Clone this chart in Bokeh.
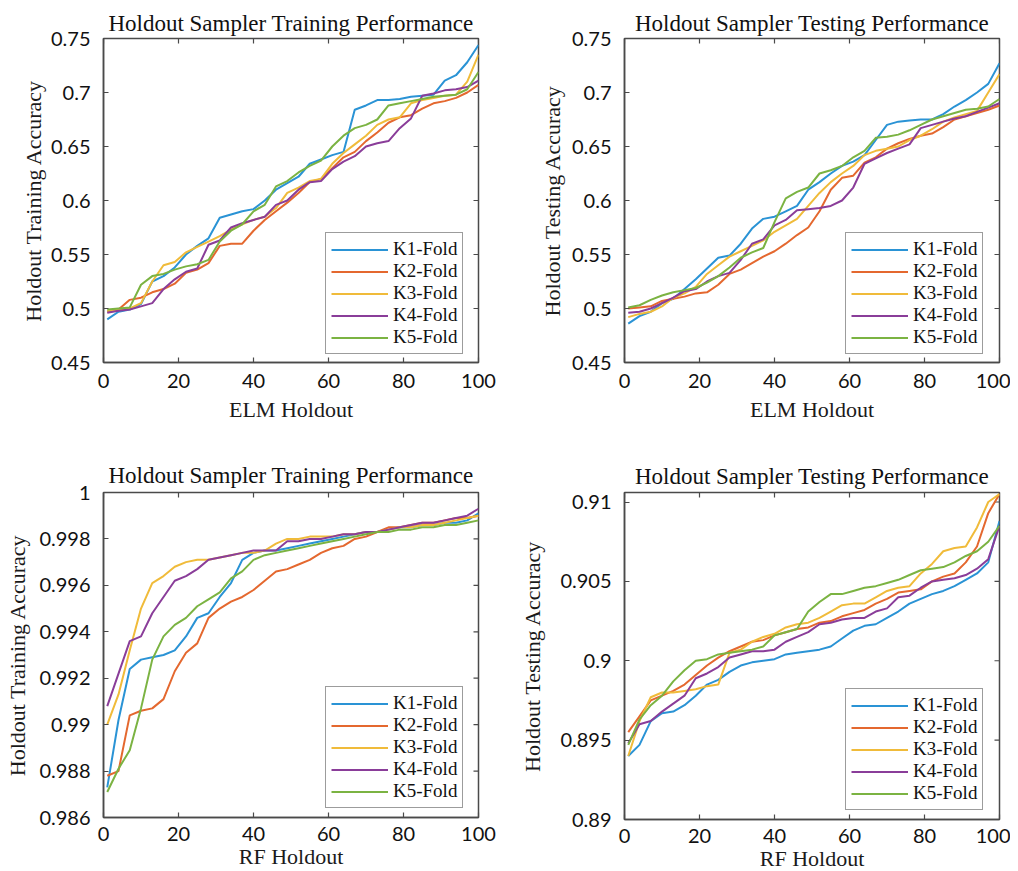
import math
from bokeh.plotting import figure
from bokeh.layouts import column, row
from bokeh.models import FixedTicker, Legend, LegendItem, Range1d
from bokeh.embed import file_html
from bokeh.resources import INLINE

# ---------------- data ----------------
holdout_x = [1, 4, 7, 10, 13, 16, 19, 22, 25, 28, 31, 34, 37, 40, 43, 46, 49,
             52, 55, 58, 61, 64, 67, 70, 73, 76, 79, 82, 85, 88, 91, 94, 97, 100]

fold_labels = ["K1-Fold", "K2-Fold", "K3-Fold", "K4-Fold", "K5-Fold"]

elm_train_k1 = [.490, .497, .499, .504, .525, .530, .538, .550, .558, .565, .584, .587, .590, .592, .600, .610, .616,
                .622, .634, .638, .642, .645, .684, .688, .693, .693, .694, .696, .697, .698, .711, .716, .728, .744]
elm_train_k2 = [.497, .499, .508, .510, .515, .518, .523, .533, .536, .542, .558, .560, .560, .572, .582, .590, .598,
                .607, .617, .620, .630, .640, .645, .655, .663, .672, .677, .679, .685, .690, .692, .695, .700, .707]
elm_train_k3 = [.498, .499, .500, .505, .525, .540, .543, .552, .557, .562, .567, .573, .578, .582, .585, .593, .607,
                .612, .618, .620, .634, .644, .652, .660, .670, .675, .677, .690, .693, .695, .697, .698, .710, .735]
elm_train_k4 = [.496, .498, .499, .502, .505, .518, .527, .534, .537, .559, .563, .575, .579, .582, .585, .596, .600,
                .610, .617, .618, .629, .636, .641, .650, .653, .655, .667, .676, .697, .699, .702, .703, .705, .711]
elm_train_k5 = [.499, .500, .501, .522, .530, .532, .536, .539, .541, .545, .562, .572, .578, .590, .596, .613, .618,
                .626, .632, .637, .650, .660, .667, .670, .675, .688, .690, .692, .694, .696, .697, .698, .703, .719]

elm_test_k1 = [.486, .493, .497, .505, .509, .518, .527, .537, .547, .549, .560, .574, .583, .585, .590, .595, .610,
               .617, .625, .632, .636, .642, .656, .670, .673, .674, .675, .675, .680, .687, .693, .700, .708, .727]
elm_test_k2 = [.500, .501, .502, .507, .509, .511, .514, .515, .522, .532, .536, .542, .548, .553, .560, .568, .575,
               .590, .610, .621, .623, .635, .640, .648, .653, .657, .660, .662, .668, .675, .678, .681, .684, .688]
elm_test_k3 = [.492, .495, .497, .502, .510, .514, .520, .532, .540, .548, .553, .558, .563, .571, .577, .583, .595,
               .607, .617, .625, .632, .642, .646, .648, .650, .656, .660, .666, .673, .677, .680, .683, .700, .717]
elm_test_k4 = [.496, .497, .500, .505, .510, .516, .518, .525, .530, .533, .545, .560, .564, .577, .582, .591, .592,
               .593, .595, .600, .612, .634, .639, .644, .648, .652, .667, .670, .673, .676, .678, .682, .686, .690]
elm_test_k5 = [.501, .503, .508, .512, .515, .517, .519, .524, .530, .538, .547, .552, .556, .580, .602, .608, .612,
               .625, .628, .632, .640, .646, .658, .659, .661, .665, .670, .675, .678, .681, .684, .685, .687, .694]

rf_train_k1 = [.9873, .9902, .9924, .9928, .9929, .9930, .9932, .9938, .9946, .9948, .9955, .9961, .9971, .9974,
               .9975, .9975, .9976, .9977, .9978, .9979, .9980, .9981, .9982, .9983, .9983, .9984, .9985, .9985,
               .9986, .9986, .9987, .9987, .9988, .9991]
rf_train_k2 = [.9878, .9880, .9904, .9906, .9907, .9911, .9923, .9931, .9935, .9946, .9950, .9953, .9955, .9958,
               .9962, .9966, .9967, .9969, .9971, .9974, .9976, .9977, .9980, .9981, .9983, .9985, .9985, .9986,
               .9987, .9987, .9988, .9989, .9989, .9990]
rf_train_k3 = [.9900, .9913, .9932, .9950, .9961, .9964, .9968, .9970, .9971, .9971, .9972, .9973, .9974, .9974,
               .9975, .9978, .9980, .9980, .9981, .9981, .9981, .9982, .9982, .9983, .9983, .9984, .9985, .9985,
               .9986, .9986, .9987, .9988, .9989, .9990]
rf_train_k4 = [.9908, .9922, .9936, .9938, .9948, .9955, .9962, .9964, .9967, .9971, .9972, .9973, .9974, .9975,
               .9975, .9975, .9979, .9979, .9980, .9980, .9981, .9982, .9982, .9983, .9983, .9984, .9985, .9986,
               .9987, .9987, .9988, .9989, .9990, .9993]
rf_train_k5 = [.9871, .9881, .9889, .9907, .9928, .9938, .9943, .9946, .9951, .9954, .9957, .9963, .9966, .9971,
               .9973, .9974, .9975, .9976, .9977, .9978, .9979, .9980, .9981, .9982, .9983, .9983, .9984, .9984,
               .9985, .9985, .9986, .9986, .9987, .9988]

rf_test_k1 = [.8940, .8947, .8962, .8967, .8968, .8972, .8978, .8985, .8988, .8993, .8997, .8999, .9000, .9001,
              .9004, .9005, .9006, .9007, .9009, .9014, .9019, .9022, .9023, .9027, .9031, .9036, .9039, .9042,
              .9044, .9047, .9051, .9055, .9062, .9088]
rf_test_k2 = [.8955, .8965, .8975, .8978, .8981, .8985, .8991, .8997, .9002, .9006, .9009, .9012, .9013, .9016,
              .9018, .9020, .9021, .9024, .9025, .9028, .9030, .9032, .9036, .9039, .9043, .9044, .9045, .9050,
              .9053, .9055, .9062, .9072, .9093, .9105]
rf_test_k3 = [.8940, .8962, .8977, .8980, .8980, .8981, .8982, .8984, .8985, .9005, .9007, .9012, .9015, .9017,
              .9021, .9023, .9024, .9027, .9031, .9035, .9036, .9036, .9040, .9044, .9046, .9047, .9055, .9061,
              .9069, .9071, .9072, .9084, .9100, .9105]
rf_test_k4 = [.8948, .8960, .8962, .8968, .8973, .8978, .8989, .8992, .8996, .9002, .9004, .9006, .9006, .9007,
              .9012, .9015, .9018, .9023, .9024, .9026, .9027, .9027, .9031, .9033, .9040, .9041, .9046, .9050,
              .9051, .9052, .9054, .9058, .9064, .9085]
rf_test_k5 = [.8947, .8963, .8972, .8978, .8987, .8994, .9000, .9001, .9004, .9005, .9006, .9007, .9009, .9016,
              .9018, .9020, .9031, .9037, .9042, .9042, .9044, .9046, .9047, .9049, .9051, .9054, .9057, .9058,
              .9059, .9062, .9066, .9069, .9075, .9085]

x_ticks = [0, 20, 40, 60, 80, 100]
elm_y_ticks = [0.45, 0.5, 0.55, 0.6, 0.65, 0.7, 0.75]
elm_y_labels = ["0.45", "0.5", "0.55", "0.6", "0.65", "0.7", "0.75"]
rf_train_y_ticks = [0.986, 0.988, 0.99, 0.992, 0.994, 0.996, 0.998, 1.0]
rf_train_y_labels = ["0.986", "0.988", "0.99", "0.992", "0.994", "0.996", "0.998", "1"]
rf_test_y_ticks = [0.89, 0.895, 0.9, 0.905, 0.91]
rf_test_y_labels = ["0.89", "0.895", "0.9", "0.905", "0.91"]

# ---------------- styling ----------------
COLORS = ["#2a93d5", "#e4682f", "#f0bb3a", "#8a3d99", "#7bb342"]
EDGE = "#4a4a4a"
SERIF = "Liberation Serif"
SANS = "Lato"
X_MIN, X_MAX = 0, 100


def style_axis(ax, ticker, overrides=None, standoff=10):
    ax.ticker = ticker
    ax.axis_line_color = EDGE
    ax.axis_line_width = 1.5
    ax.major_tick_line_color = EDGE
    ax.major_tick_line_width = 1.2
    ax.major_tick_in = 5
    ax.major_tick_out = 0
    ax.minor_tick_line_color = None
    if overrides:
        ax.major_label_overrides = overrides
    ax.major_label_text_font = SANS
    ax.major_label_text_font_size = "20px"
    ax.major_label_text_color = "#111111"
    ax.major_label_standoff = standoff
    ax.axis_label_text_font = SERIF
    ax.axis_label_text_font_size = "22px"
    ax.axis_label_text_font_style = "normal"
    ax.axis_label_text_color = "#1a1a1a"


def panel(title, xlabel, ylabel, ylim, yticks, ylabels, series, fh, bl, br, bt, bb,
          ylab_standoff, title_standoff, xtick_standoff, xlab_standoff, legend_xy):
    p = figure(frame_width=375, frame_height=fh,
               x_range=Range1d(X_MIN, X_MAX), y_range=Range1d(*ylim),
               output_backend="svg", toolbar_location=None,
               min_border_left=bl, min_border_right=br,
               min_border_top=bt, min_border_bottom=bb)
    p.title.text = title
    p.title.text_font = SERIF
    p.title.text_font_size = "23px"
    p.title.text_font_style = "normal"
    p.title.align = "center"
    p.title.text_color = "#111111"
    p.title.standoff = title_standoff
    p.xgrid.visible = False
    p.ygrid.visible = False
    p.outline_line_color = EDGE
    p.outline_line_width = 1.5
    p.background_fill_color = "white"
    p.border_fill_color = "white"

    ov = {t: lab for t, lab in zip(yticks, ylabels)}
    style_axis(p.xaxis[0], FixedTicker(ticks=x_ticks), standoff=xtick_standoff)
    p.xaxis[0].axis_label = xlabel
    p.xaxis[0].axis_label_standoff = xlab_standoff
    style_axis(p.yaxis[0], FixedTicker(ticks=yticks), overrides=ov, standoff=13)
    p.yaxis[0].axis_label = ylabel
    p.yaxis[0].axis_label_standoff = ylab_standoff

    # inward tick marks on the top and right edges of the box
    p.ray(x=x_ticks, y=[ylim[1]] * len(x_ticks), length=5, length_units="screen",
          angle=-math.pi / 2, line_color=EDGE, line_width=1.2)
    p.ray(x=[X_MAX] * len(yticks), y=yticks, length=5, length_units="screen",
          angle=math.pi, line_color=EDGE, line_width=1.2)

    items = []
    for lab, ys, col in zip(fold_labels, series, COLORS):
        r = p.line(holdout_x, ys, line_color=col, line_width=2)
        items.append(LegendItem(label=lab, renderers=[r]))
    leg = Legend(items=items, location=legend_xy, margin=0, padding=5, spacing=0,
                 label_height=21, glyph_height=21, glyph_width=57, label_standoff=5,
                 label_text_font=SERIF, label_text_font_size="19px", label_text_color="#111111",
                 border_line_color="#3a3a3a", border_line_width=1.5,
                 background_fill_color="white", background_fill_alpha=1.0)
    p.add_layout(leg)
    return p


p1 = panel("Holdout Sampler Training Performance", "ELM Holdout", "Holdout Training Accuracy",
           (0.45, 0.75), elm_y_ticks, elm_y_labels,
           [elm_train_k1, elm_train_k2, elm_train_k3, elm_train_k4, elm_train_k5],
           324, 103, 31, 38, 78, 2, 6, 11, 6, (222, 8))
p2 = panel("Holdout Sampler Testing Performance", "ELM Holdout", "Holdout Testing Accuracy",
           (0.45, 0.75), elm_y_ticks, elm_y_labels,
           [elm_test_k1, elm_test_k2, elm_test_k3, elm_test_k4, elm_test_k5],
           324, 115, 11, 38, 78, 4, 6, 11, 6, (221, 8))
p3 = panel("Holdout Sampler Training Performance", "RF Holdout", "Holdout Training Accuracy",
           (0.986, 1.0), rf_train_y_ticks, rf_train_y_labels,
           [rf_train_k1, rf_train_k2, rf_train_k3, rf_train_k4, rf_train_k5],
           325, 103, 31, 52, 53, 6, 10, 9, 0, (222, 9))
p4 = panel("Holdout Sampler Testing Performance", "RF Holdout", "Holdout Testing Accuracy",
           (0.89, 0.9106), rf_test_y_ticks, rf_test_y_labels,
           [rf_test_k1, rf_test_k2, rf_test_k3, rf_test_k4, rf_test_k5],
           327, 115, 11, 50, 53, 12, 8, 9, 0, (221, 9))

layout = column(row(p1, p2), row(p3, p4))
open("out.html", "w").write(file_html(layout, INLINE))
